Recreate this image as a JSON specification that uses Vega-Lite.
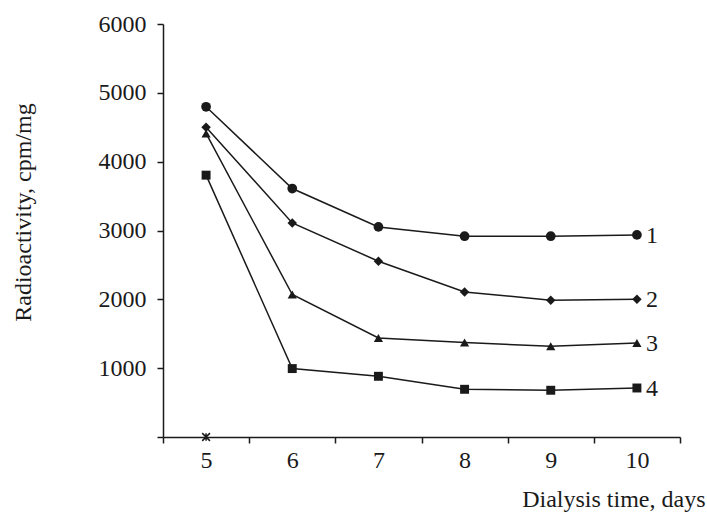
{
  "$schema": "https://vega.github.io/schema/vega-lite/v6.json",
  "width": 517,
  "height": 413,
  "autosize": "none",
  "padding": {"left": 163, "top": 24, "right": 27, "bottom": 77},
  "background": "white",
  "config": {"view": {"stroke": null}},
  "datasets": {
    "series": [
      {"series": "1", "day": 5, "value": 4797},
      {"series": "1", "day": 6, "value": 3610},
      {"series": "1", "day": 7, "value": 3052},
      {"series": "1", "day": 8, "value": 2917},
      {"series": "1", "day": 9, "value": 2917},
      {"series": "1", "day": 10, "value": 2936},
      {"series": "2", "day": 5, "value": 4500},
      {"series": "2", "day": 6, "value": 3110},
      {"series": "2", "day": 7, "value": 2554},
      {"series": "2", "day": 8, "value": 2108},
      {"series": "2", "day": 9, "value": 1987},
      {"series": "2", "day": 10, "value": 2001},
      {"series": "3", "day": 5, "value": 4410},
      {"series": "3", "day": 6, "value": 2070},
      {"series": "3", "day": 7, "value": 1439},
      {"series": "3", "day": 8, "value": 1372},
      {"series": "3", "day": 9, "value": 1318},
      {"series": "3", "day": 10, "value": 1366},
      {"series": "4", "day": 5, "value": 3804},
      {"series": "4", "day": 6, "value": 994},
      {"series": "4", "day": 7, "value": 882},
      {"series": "4", "day": 8, "value": 693},
      {"series": "4", "day": 9, "value": 679},
      {"series": "4", "day": 10, "value": 712}
    ],
    "marker": [
      {"day": 5, "value": 0}
    ]
  },
  "encoding": {
    "x": {
      "field": "day",
      "type": "quantitative",
      "scale": {"domain": [4.5, 10.5], "nice": false, "zero": false},
      "axis": {
        "values": [4.5, 5, 5.5, 6, 6.5, 7, 7.5, 8, 8.5, 9, 9.5, 10, 10.5],
        "labelExpr": "datum.value % 1 === 0 ? format(datum.value, 'd') : ''",
        "tickOpacity": {"condition": {"test": "datum.value % 1 === 0", "value": 0}, "value": 1},
        "grid": false,
        "domainColor": "#1a1a1a",
        "domainWidth": 1.5,
        "tickColor": "#1a1a1a",
        "tickWidth": 1.5,
        "tickSize": 6,
        "labelFont": "Liberation Serif",
        "labelFontSize": 24,
        "labelColor": "#1a1a1a",
        "labelPadding": 5,
        "labelFlush": false,
        "labelOverlap": false,
        "labelBound": false,
        "title": "Dialysis time, days",
        "titleFont": "Liberation Serif",
        "titleFontSize": 24,
        "titleFontWeight": "normal",
        "titleColor": "#1a1a1a",
        "titleX": 542,
        "titleY": 69,
        "titleAlign": "right",
        "titleBaseline": "alphabetic"
      }
    },
    "y": {
      "field": "value",
      "type": "quantitative",
      "scale": {"domain": [0, 6000], "nice": false},
      "axis": {
        "values": [0, 1000, 2000, 3000, 4000, 5000, 6000],
        "labelExpr": "datum.value === 0 ? '' : format(datum.value, 'd')",
        "grid": false,
        "domainColor": "#1a1a1a",
        "domainWidth": 1.5,
        "tickColor": "#1a1a1a",
        "tickWidth": 1.5,
        "tickSize": 6,
        "labelFont": "Liberation Serif",
        "labelFontSize": 24,
        "labelColor": "#1a1a1a",
        "labelPadding": 11,
        "labelFlush": false,
        "labelOverlap": false,
        "labelBound": false,
        "title": "Radioactivity, cpm/mg",
        "titleFont": "Liberation Serif",
        "titleFontSize": 24,
        "titleFontWeight": "normal",
        "titleColor": "#1a1a1a",
        "titleAngle": -90,
        "titleX": -140,
        "titleY": 188,
        "titleAlign": "center",
        "titleBaseline": "middle"
      }
    }
  },
  "layer": [
    {
      "data": {"name": "series"},
      "mark": {"type": "line", "color": "#1a1a1a", "strokeWidth": 1.5},
      "encoding": {"detail": {"field": "series"}}
    },
    {
      "data": {"name": "series"},
      "mark": {"type": "point", "filled": true, "color": "#1a1a1a", "opacity": 1},
      "encoding": {
        "shape": {
          "field": "series",
          "type": "nominal",
          "scale": {"domain": ["1", "2", "3", "4"], "range": ["circle", "diamond", "triangle-up", "square"]},
          "legend": null
        },
        "size": {
          "field": "series",
          "type": "nominal",
          "scale": {"domain": ["1", "2", "3", "4"], "range": [95, 80, 80, 75]},
          "legend": null
        }
      }
    },
    {
      "data": {"name": "series"},
      "transform": [{"filter": "datum.day === 10"}],
      "mark": {"type": "text", "align": "left", "baseline": "middle", "dx": 9, "dy": 1, "font": "Liberation Serif", "fontSize": 24, "color": "#1a1a1a"},
      "encoding": {"text": {"field": "series"}}
    },
    {
      "data": {"name": "marker"},
      "mark": {"type": "point", "shape": "M-1,-1L1,1M1,-1L-1,1M0,-1L0,1", "filled": false, "size": 60, "color": "#1a1a1a", "strokeWidth": 1.5, "opacity": 1}
    }
  ]
}
